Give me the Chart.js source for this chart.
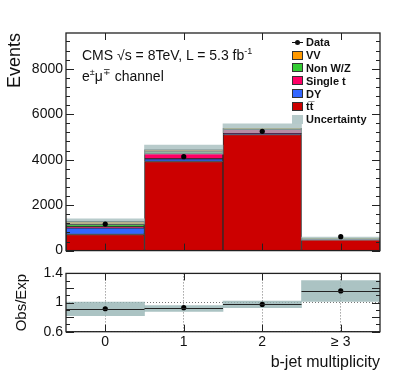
<!DOCTYPE html>
<html>
<head>
<meta charset="utf-8">
<script src="https://cdn.jsdelivr.net/npm/chart.js@4"></script>
<style>
body { margin: 0; background: #fff; font-family: "Liberation Sans", Arial, sans-serif; }
#wrap { position: relative; width: 399px; height: 383px; overflow: hidden; }
#top { position: absolute; left: 0; top: 0; }
#ratio { position: absolute; left: 0; top: 262px; }
.txt { position: absolute; font-size: 14px; color: #111; white-space: nowrap; }
.txt sup { font-size: 9px; }
#legend { position: absolute; left: 292px; top: 36px; font-weight: bold; font-size: 11px; color: #111; }
.row { height: 12.8px; display: flex; align-items: center; }
.box { width: 9px; height: 7px; border: 1px solid #333; margin-right: 3px; }
.dataMark { position: relative; width: 11px; height: 9px; margin-right: 3px; }
.dataMark i { position: absolute; left: 0; right: 0; top: 4px; height: 1px; background: #111; }
.dataMark b { position: absolute; left: 3px; top: 2px; width: 5px; height: 5px; border-radius: 50%; background: #111; }
</style>
</head>
<body>
<div id="wrap">
  <canvas id="top" width="399" height="262"></canvas>
  <canvas id="ratio" width="399" height="121"></canvas>
  <div class="txt" style="left:82px;top:46px;">CMS &radic;s = 8TeV, L = 5.3 fb<sup>-1</sup></div>
  <div class="txt" style="left:82px;top:67px;">e<sup>&plusmn;</sup>&mu;<sup>&#8723;</sup> channel</div>
  <div id="legend"></div>
</div>
<script>
// bins and labels
const bins = [0, 1, 2, 3];
const binLabels = ["0", "1", "2", "\u2265 3"];

// stacked MC (events)
const ttbar = [707, 3920, 5105, 480];
const dy = [290, 115, 30, 5];
const singleTop = [45, 240, 200, 32];
const nonWZ = [100, 70, 20, 5];
const vv = [140, 100, 25, 6];
const dataObs = [1165, 4133, 5246, 612];
const mcUncLow = [1162, 4245, 5185, 458];
const mcUncHigh = [1402, 4645, 5575, 598];
const eventTicks = [0, 2000, 4000, 6000, 8000];
const eventMax = 9570;

// ratio panel
const ratio = [0.915, 0.93, 0.974, 1.16];
const ratioUncLow = [0.82, 0.88, 0.93, 1.015];
const ratioUncHigh = [1.005, 0.96, 1.02, 1.30];
const ratioTicks = [0.6, 0.8, 1, 1.2, 1.4];
const ratioTickLabels = ["0.6", "", "1", "", "1.4"];

const colors = {
    tt: "#cc0000", dy: "#3366ff", st: "#ff0066", nonwz: "#33cc33", vv: "#ff9900",
    unc: "rgba(160,185,185,0.75)", ratioUnc: "rgba(150,180,180,0.8)"
};

const pts = arr => bins.map((x, i) => ({ x: x, y: arr[i] }));
const band = (lo, hi) => bins.map((x, i) => ({ x: x, y: [lo[i], hi[i]] }));

function minorList(lo, hi, step) {
    let out = [];
    for (let v = lo; v <= hi + 1e-9; v += step) out.push(+v.toFixed(4));
    return out;
}

// frame and inward ticks, ROOT style
const frameTicks = {
    id: "frameTicks",
    afterDatasetsDraw(chart, args, o) {
        const ctx = chart.ctx, a = chart.chartArea;
        const xs = chart.scales.x, ys = chart.scales.y;
        ctx.save();
        ctx.strokeStyle = "#222";
        ctx.lineWidth = 1;
        ctx.beginPath();
        o.xMajor.forEach(v => {
            const px = Math.round(xs.getPixelForValue(v)) + 0.5;
            ctx.moveTo(px, a.bottom); ctx.lineTo(px, a.bottom - 7);
            ctx.moveTo(px, a.top); ctx.lineTo(px, a.top + 7);
        });
        o.yMinor.forEach(v => {
            const py = Math.round(ys.getPixelForValue(v)) + 0.5;
            const len = o.yMajor.some(m => Math.abs(m - v) < 1e-6) ? 8 : 4;
            ctx.moveTo(a.left, py); ctx.lineTo(a.left + len, py);
            ctx.moveTo(a.right, py); ctx.lineTo(a.right - len, py);
        });
        ctx.stroke();
        ctx.lineWidth = 1.3;
        ctx.strokeRect(a.left, a.top, a.right - a.left, a.bottom - a.top);
        ctx.restore();
    }
};

// horizontal bars for ratio points (bin width)
const binErrors = {
    id: "binErrors",
    afterDatasetsDraw(chart, args, o) {
        if (!o.values) return;
        const ctx = chart.ctx, xs = chart.scales.x, ys = chart.scales.y;
        ctx.save();
        ctx.strokeStyle = "#222";
        ctx.lineWidth = 1;
        ctx.beginPath();
        bins.forEach((b, i) => {
            const py = Math.round(ys.getPixelForValue(o.values[i])) + 0.5;
            ctx.moveTo(xs.getPixelForValue(b - 0.5), py);
            ctx.lineTo(xs.getPixelForValue(b + 0.5), py);
        });
        ctx.stroke();
        ctx.restore();
    }
};

Chart.defaults.font.family = "'Liberation Sans', Arial, sans-serif";
Chart.defaults.color = "#111";

function stackSet(label, arr, color) {
    return {
        type: "bar", label: label, data: pts(arr), backgroundColor: color,
        borderColor: "#2a2a2a", borderWidth: 1, borderSkipped: false,
        stack: "mc", grouped: false, barPercentage: 1, categoryPercentage: 1, order: 3
    };
}

new Chart(document.getElementById("top"), {
    type: "bar",
    data: {
        datasets: [
            stackSet("tt", ttbar, colors.tt),
            stackSet("DY", dy, colors.dy),
            stackSet("Single t", singleTop, colors.st),
            stackSet("Non W/Z", nonWZ, colors.nonwz),
            stackSet("VV", vv, colors.vv),
            {
                // same stack name but on its own value axis, so it overlays instead of stacking
                type: "bar", label: "Uncertainty", data: band(mcUncLow, mcUncHigh), yAxisID: "yUnc",
                backgroundColor: colors.unc, borderWidth: 0, stack: "mc", grouped: false,
                barPercentage: 1, categoryPercentage: 1, order: 2
            },
            {
                type: "line", label: "Data", data: pts(dataObs), showLine: false,
                pointRadius: 2.6, pointBackgroundColor: "#000", pointBorderWidth: 0, order: 1
            }
        ]
    },
    options: {
        responsive: false,
        animation: false,
        layout: { padding: { top: 33, right: 19, bottom: 5.5, left: 0 } },
        scales: {
            x: {
                type: "linear", min: -0.5, max: 3.5, offset: false, display: false,
                afterBuildTicks: s => { s.ticks = bins.map(v => ({ value: v })); }
            },
            y: {
                stacked: true, min: 0, max: eventMax,
                afterBuildTicks: s => { s.ticks = eventTicks.map(v => ({ value: v })); },
                afterFit: s => { s.width = 66; },
                grid: { display: false, drawTicks: false },
                border: { display: false },
                ticks: { font: { size: 14 }, padding: 3, callback: v => String(v) },
                title: { display: true, text: "Events", align: "end", font: { size: 18 }, padding: { top: 4, bottom: 0 } }
            },
            yUnc: { type: "linear", min: 0, max: eventMax, display: false, stacked: false }
        },
        plugins: {
            legend: { display: false },
            tooltip: { enabled: false },
            frameTicks: { xMajor: bins, yMajor: eventTicks, yMinor: minorList(0, eventMax, 400) }
        }
    },
    plugins: [frameTicks]
});

new Chart(document.getElementById("ratio"), {
    type: "bar",
    data: {
        datasets: [
            {
                type: "bar", label: "unc", data: band(ratioUncLow, ratioUncHigh),
                backgroundColor: colors.ratioUnc, borderWidth: 0, grouped: false,
                barPercentage: 1, categoryPercentage: 1, order: 2
            },
            {
                type: "line", label: "ratio", data: pts(ratio), showLine: false,
                pointRadius: 2.6, pointBackgroundColor: "#000", pointBorderWidth: 0, order: 1
            }
        ]
    },
    options: {
        responsive: false,
        animation: false,
        layout: { padding: { top: 11.3, right: 19, bottom: 0, left: 0 } },
        scales: {
            x: {
                type: "linear", min: -0.5, max: 3.5, offset: false,
                afterBuildTicks: s => { s.ticks = bins.map(v => ({ value: v })); },
                afterFit: s => { s.height = 51.3; },
                grid: { color: "#777", drawTicks: false, offset: false },
                border: { display: false, dash: [1, 2] },
                ticks: { font: { size: 14 }, padding: 2, maxRotation: 0, callback: (v, i) => binLabels[i] },
                title: { display: true, text: "b-jet multiplicity", align: "end", font: { size: 16 }, padding: { top: 0, bottom: 11 } }
            },
            y: {
                min: 0.6, max: 1.4,
                afterBuildTicks: s => { s.ticks = ratioTicks.map(v => ({ value: v })); },
                afterFit: s => { s.width = 66; },
                grid: { color: "#777", drawTicks: false },
                border: { display: false, dash: [1, 2] },
                ticks: { font: { size: 14 }, padding: 3, callback: (v, i) => ratioTickLabels[i] },
                title: { display: true, text: "Obs/Exp", align: "center", font: { size: 15 }, padding: { top: 13, bottom: 0 } }
            }
        },
        plugins: {
            legend: { display: false },
            tooltip: { enabled: false },
            frameTicks: { xMajor: bins, yMajor: ratioTicks, yMinor: minorList(0.6, 1.4, 0.1) },
            binErrors: { values: ratio }
        }
    },
    plugins: [frameTicks, binErrors]
});

// legend, ROOT order
const legendItems = [
    { label: "Data", data: true },
    { label: "VV", color: colors.vv },
    { label: "Non W/Z", color: colors.nonwz },
    { label: "Single t", color: colors.st },
    { label: "DY", color: colors.dy },
    { label: "tt\u0305", color: colors.tt },
    { label: "Uncertainty", color: "#b5caca", noBorder: true }
];
const leg = document.getElementById("legend");
legendItems.forEach(it => {
    const row = document.createElement("div");
    row.className = "row";
    const mark = document.createElement("div");
    if (it.data) {
        mark.className = "dataMark";
        mark.innerHTML = "<i></i><b></b>";
    } else {
        mark.className = "box";
        mark.style.background = it.color;
        if (it.noBorder) mark.style.borderColor = it.color;
    }
    row.appendChild(mark);
    const t = document.createElement("span");
    t.textContent = it.label;
    row.appendChild(t);
    leg.appendChild(row);
});
</script>
</body>
</html>
